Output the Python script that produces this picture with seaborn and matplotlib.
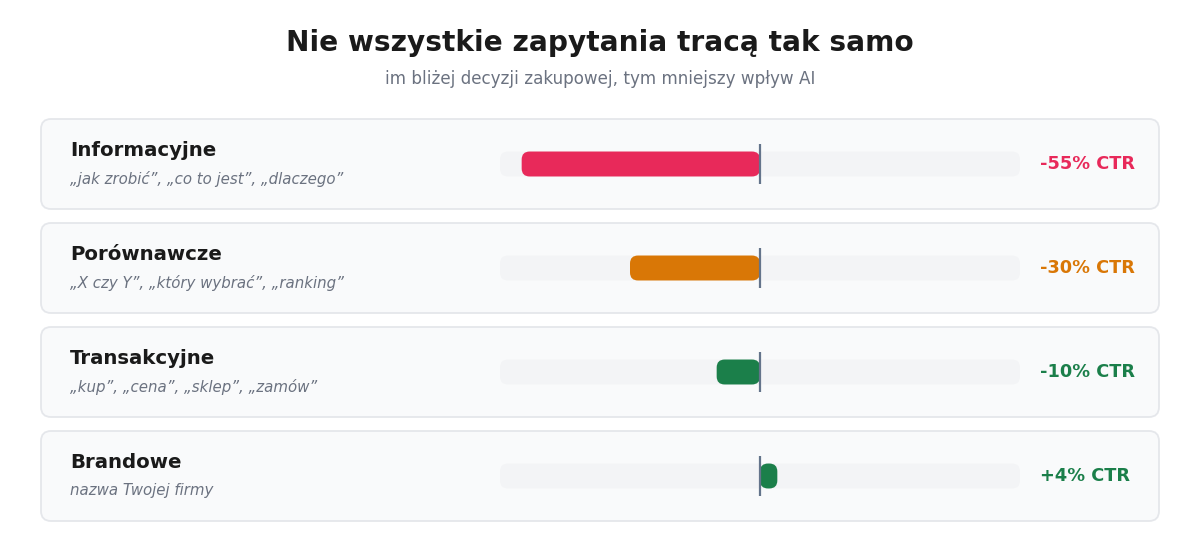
import numpy as np
import pandas as pd
import matplotlib
matplotlib.use('Agg')
import matplotlib.pyplot as plt
import seaborn as sns
from matplotlib.patches import FancyBboxPatch
from matplotlib.transforms import IdentityTransform

'''Dane'''
kategorie = ['Informacyjne', 'Porównawcze', 'Transakcyjne', 'Brandowe']
przyklady = ['„jak zrobić”, „co to jest”, „dlaczego”',
             '„X czy Y”, „który wybrać”, „ranking”',
             '„kup”, „cena”, „sklep”, „zamów”',
             'nazwa Twojej firmy']
zmiana_ctr = [-55, -30, -10, 4]
kolory = ['#e8295a', '#d97706', '#1b7f4a', '#1b7f4a']

tytul = 'Nie wszystkie zapytania trac\u0105 tak samo'
podtytul = 'im bli\u017cej decyzji zakupowej, tym mniejszy wp\u0142yw AI'

df = pd.DataFrame({'kategoria': kategorie, 'ctr': zmiana_ctr})

sns.set_theme(style='white')
plt.rcParams['font.family'] = ['DejaVu Sans']

W, H = 1200, 560
fig = plt.figure(figsize=(W / 100, H / 100), dpi=100)
fig.patch.set_facecolor('white')

# tło w pikselach
bg = fig.add_axes([0, 0, 1, 1])
bg.set_xlim(0, W)
bg.set_ylim(H, 0)
bg.axis('off')

fig.text(0.5, 1 - 43 / H, tytul, ha='center', va='center',
         fontsize=20.2, fontweight='bold', color='#1a1a1a')
fig.text(0.5, 1 - 79 / H, podtytul, ha='center', va='center',
         fontsize=12.1, color='#6b7280')

# os z paskami
ax = fig.add_axes([500 / W, 32 / H, 520 / W, 416 / H])
sns.barplot(data=df, x='ctr', y='kategoria', hue='kategoria', palette=kolory,
            width=0.24, saturation=1, legend=False, ax=ax, orient='h')
ax.set_xlim(-60, 60)
ax.set_ylim(3.5, -0.5)
ax.axis('off')
fig.canvas.draw()


def rounded(axis, x0, y0, x1, y1, r, color, z, **kw):
    p = FancyBboxPatch((x0, y0), x1 - x0, y1 - y0,
                       boxstyle=f'round,pad=0,rounding_size={r}',
                       transform=IdentityTransform(), fc=color, zorder=z, **kw)
    p.set_clip_on(False)
    axis.add_artist(p)


for i in range(len(kategorie)):
    # karta
    cy = ax.transData.transform((0, i))[1]
    rounded(bg, 41, cy - 45, 1159, cy + 45, 10, '#f9fafb', 1,
            ec='#e5e7eb', lw=1.3)
    # tor
    (tx0, ty0), (tx1, ty1) = ax.transData.transform([(-60, i + 0.12), (60, i - 0.12)])
    rounded(ax, tx0, ty0, tx1, ty1, 8, '#f3f4f6', 1, lw=0)
    py = H - cy
    bg.text(70, py - 13, kategorie[i], ha='left', va='center',
            fontsize=14.2, fontweight='bold', color='#1a1a1a')
    bg.text(70, py + 15, przyklady[i], ha='left', va='center',
            fontsize=10.8, style='italic', color='#6b7280')
    znak = '+' if zmiana_ctr[i] > 0 else ''
    bg.text(1040, py, f'{znak}{zmiana_ctr[i]}% CTR', ha='left', va='center',
            fontsize=12.8, fontweight='bold', color=kolory[i])

# zaokraglone paski zamiast prostokatow
for patch in list(ax.patches):
    if isinstance(patch, FancyBboxPatch):
        continue
    bb = patch.get_window_extent()
    c = patch.get_facecolor()
    patch.set_visible(False)
    r = min(8, bb.width / 2)
    rounded(ax, bb.x0, bb.y0, bb.x1, bb.y1, r, c, 3, lw=0)

pozycje = np.arange(len(kategorie))
ax.vlines(np.zeros(len(kategorie)), pozycje - 0.19, pozycje + 0.19,
          color='#64748b', lw=1.6, zorder=5)

fig.savefig('out.png', dpi=100, facecolor='white')
